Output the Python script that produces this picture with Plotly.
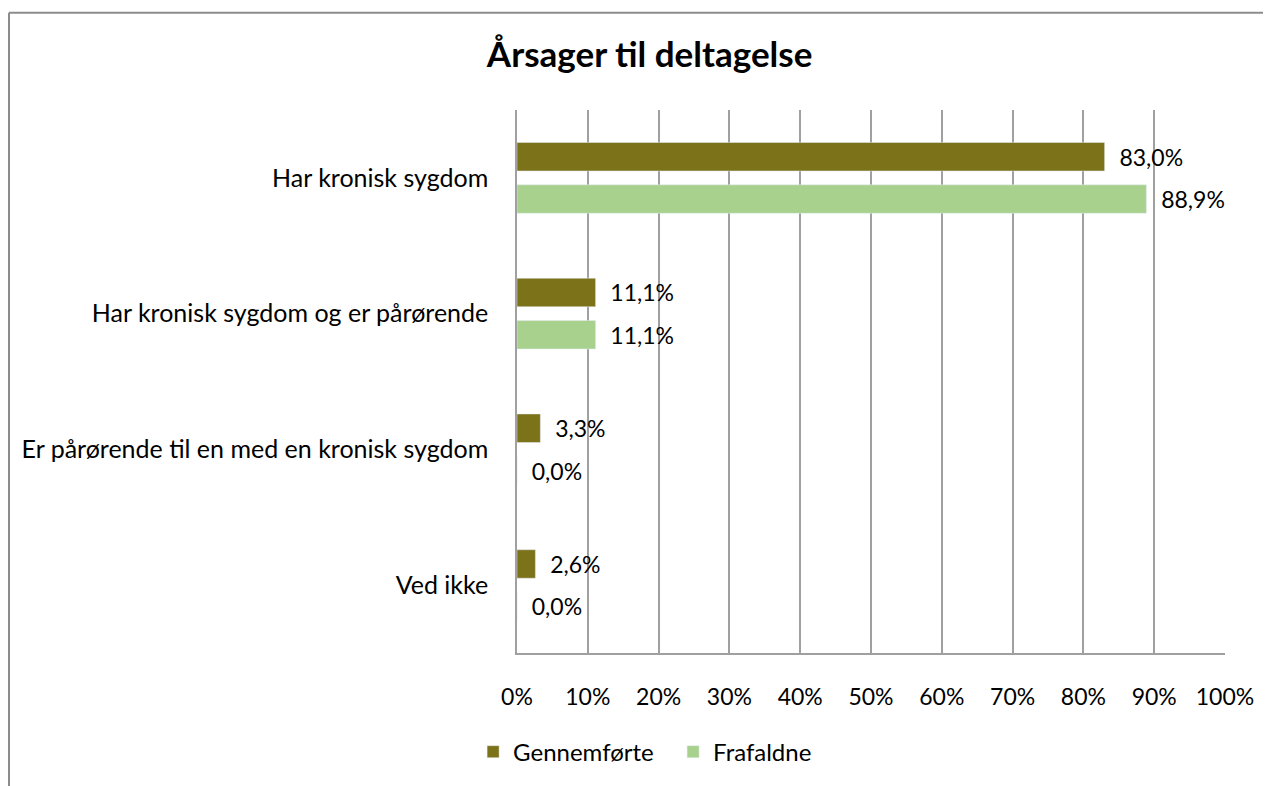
import plotly.graph_objects as go

# data
categories = [
    "Har kronisk sygdom",
    "Har kronisk sygdom og er pårørende",
    "Er pårørende til en med en kronisk sygdom",
    "Ved ikke",
]
gennemforte = [83.0, 11.1, 3.3, 2.6]
frafaldne = [88.9, 11.1, 0.0, 0.0]
x_ticks = list(range(0, 101, 10))
x_ticklabels = [f"{v}%" for v in x_ticks]

dark_colour = "#7B7219"
light_colour = "#A9D18E"
font_family = "Lato, Open Sans, sans-serif"

fig = go.Figure()

fig.add_trace(go.Bar(
    y=categories, x=gennemforte, orientation="h", name="Gennemførte",
    marker=dict(color=dark_colour),
    text=gennemforte, texttemplate="  %{x:.1f}%", textposition="outside",
    textfont=dict(size=23, color="black"), cliponaxis=False,
))
fig.add_trace(go.Bar(
    y=categories, x=frafaldne, orientation="h", name="Frafaldne",
    marker=dict(color=light_colour),
    text=frafaldne, texttemplate="  %{x:.1f}%", textposition="outside",
    textfont=dict(size=23, color="black"), cliponaxis=False,
))

# outer chart frame (only top/left visible in the reference)
frame = dict(type="line", xref="paper", yref="paper",
             line=dict(color="#8c8c8c", width=2), layer="below")
fig.add_shape(x0=-0.7175, x1=1.2, y0=1.1793, y1=1.1793, **frame)
fig.add_shape(x0=-0.7175, x1=-0.7175, y0=1.1793, y1=-0.3, **frame)

fig.update_layout(
    width=1263, height=778,
    margin=dict(l=509, r=46, t=102, b=124),
    paper_bgcolor="white", plot_bgcolor="white",
    font=dict(family=font_family, size=24, color="black"),
    separators=",.",
    title=dict(text="<b>Årsager til deltagelse</b>", x=0.508, xanchor="center",
               y=0.9396, yanchor="middle", font=dict(size=35, color="black")),
    barmode="group", bargap=0.377, bargroupgap=0.326,
    showlegend=True,
    legend=dict(orientation="h", x=-0.062, xanchor="left", y=-0.141, yanchor="top",
                traceorder="normal", font=dict(size=24), itemwidth=30,
                entrywidth=155, entrywidthmode="pixels"),
)

fig.update_xaxes(
    range=[0, 100], tickvals=x_ticks, ticktext=x_ticklabels,
    showgrid=True, gridcolor="#a0a0a0", gridwidth=1.5,
    showline=True, linecolor="#a0a0a0", linewidth=1.5,
    zeroline=False, ticks="", ticklabelstandoff=23,
    tickfont=dict(size=23),
)
fig.update_yaxes(
    autorange="reversed", showgrid=False,
    showline=True, linecolor="#a0a0a0", linewidth=1.5,
    ticks="", ticklabelstandoff=22, tickfont=dict(size=25),
)

fig.write_html("out.html")
